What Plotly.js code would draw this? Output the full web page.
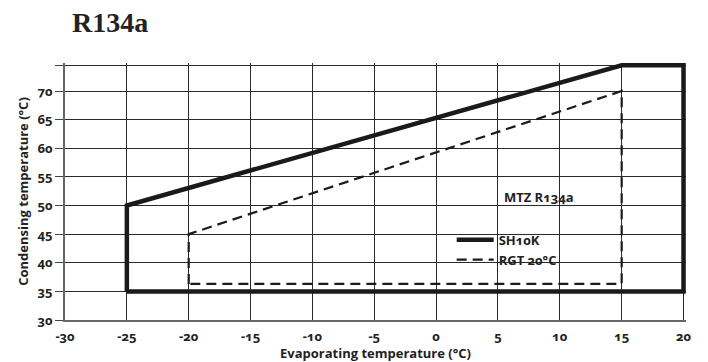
<!DOCTYPE html>
<html>
<head>
<meta charset="utf-8">
<script src="https://cdn.plot.ly/plotly-3.0.1.min.js"></script>
<style>
  html, body { margin: 0; padding: 0; background: #fff; }
  #chart { width: 708px; height: 362px; }
  .main-svg text { font-feature-settings: "onum" 1; }
</style>
</head>
<body>
<div id="chart"></div>
<script>
// Evaporating temperature (°C) / Condensing temperature (°C)
const sh10kEvap = [-25, -25, 15, 20, 20, -25];
const sh10kCond = [35, 50, 74.5, 74.5, 35, 35];

const rgtEvap = [-20, -20, 15, 15, -20];
const rgtCond = [36.3, 45, 70, 36.3, 36.3];

const xTickVals = [-30, -25, -20, -15, -10, -5, 0, 5, 10, 15, 20];
const xTickText = ['-30', '-25', '-20', '-15', '-10', '-5', '0', '5', '10', '15', '20'];
const yTickVals = [30, 35, 40, 45, 50, 55, 60, 65, 70, 74.5];
const yTickText = ['30', '35', '40', '45', '50', '55', '60', '65', '70', ''];

const seriesNames = ['SH10K', 'RGT 20°C'];
const chartTitle = 'R134a';
const modelLabel = 'MTZ R134a';

const FONT = '"Open Sans", "Noto Sans", sans-serif';
const INK = '#1a1a1a';
const FS = 13;

const traces = [
  {
    x: sh10kEvap, y: sh10kCond, name: seriesNames[0],
    type: 'scatter', mode: 'lines',
    line: { color: INK, width: 4.5 },
    hoverinfo: 'skip'
  },
  {
    x: rgtEvap, y: rgtCond, name: seriesNames[1],
    type: 'scatter', mode: 'lines',
    line: { color: INK, width: 2.2, dash: '10px,6px' },
    hoverinfo: 'skip'
  }
];

const layout = {
  width: 708, height: 362,
  margin: { l: 65, r: 21.5, t: 63, b: 41.7, pad: 0 },
  paper_bgcolor: '#fff', plot_bgcolor: '#fff',
  font: { family: FONT, size: FS, color: '#222', weight: 'bold' },
  title: {
    text: chartTitle,
    font: { family: '"Liberation Serif", "DejaVu Serif", serif', size: 28, weight: 'bold', color: '#222' },
    xref: 'container', x: 72 / 708, xanchor: 'left',
    yref: 'container', y: 1 - 12 / 362, yanchor: 'top'
  },
  xaxis: {
    range: [-30, 20.2],
    tickvals: xTickVals, ticktext: xTickText,
    ticks: '', showgrid: true, gridcolor: '#2a2a2a', gridwidth: 1,
    showline: true, linecolor: '#666', linewidth: 2,
    zeroline: false, ticklabelstandoff: 3,
    tickfont: { family: FONT, size: FS, weight: 'bold', color: '#222' },
    title: { text: 'Evaporating temperature (°C)', font: { family: FONT, size: FS, weight: 'bold', color: '#222' }, standoff: 3 },
    fixedrange: true
  },
  yaxis: {
    range: [30, 74.9],
    tickvals: yTickVals, ticktext: yTickText,
    ticks: 'outside', ticklen: 8, tickcolor: '#444', tickwidth: 1,
    showgrid: true, gridcolor: '#2a2a2a', gridwidth: 1,
    showline: true, linecolor: '#666', linewidth: 2,
    zeroline: false,
    tickfont: { family: FONT, size: FS, weight: 'bold', color: '#222' },
    title: { text: 'Condensing temperature (°C)', font: { family: FONT, size: FS, weight: 'bold', color: '#222' }, standoff: 6 },
    fixedrange: true
  },
  showlegend: true,
  legend: {
    x: (452 - 65) / 621.5, xanchor: 'left',
    y: (320.3 - 225) / 257.3, yanchor: 'top',
    bgcolor: 'rgba(0,0,0,0)', borderwidth: 0,
    font: { family: FONT, size: FS, weight: 'bold', color: '#222' },
    itemwidth: 37
  },
  annotations: [
    {
      text: modelLabel, xref: 'x', yref: 'y',
      x: 5.3, y: 51.5, xanchor: 'left', yanchor: 'middle',
      showarrow: false,
      font: { family: FONT, size: FS, weight: 'bold', color: '#222' }
    }
  ]
};

Plotly.newPlot('chart', traces, layout, { staticPlot: true, displayModeBar: false });
</script>
</body>
</html>
